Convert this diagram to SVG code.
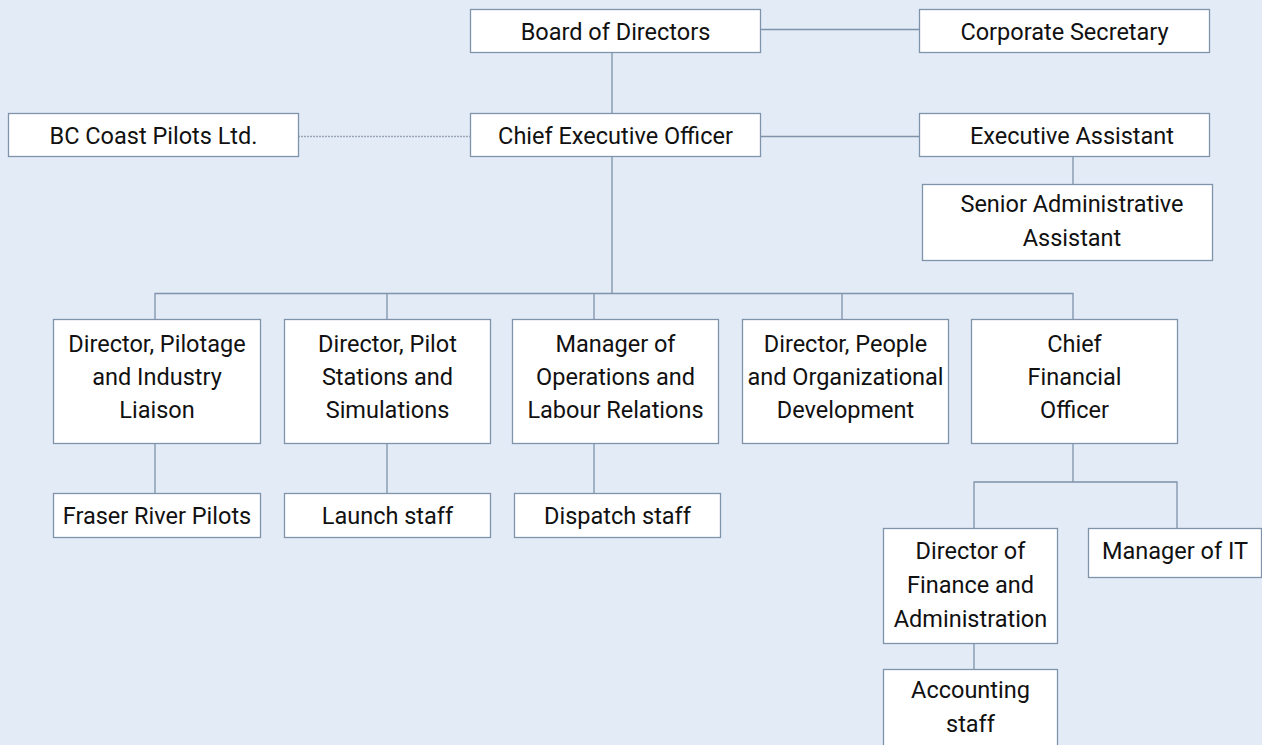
<svg xmlns="http://www.w3.org/2000/svg" width="1262" height="745" viewBox="0 0 1262 745">
<style>
.bx{fill:#ffffff;stroke:#7f93ab;stroke-width:1.3}
.t{font-family:Roboto,"Liberation Sans",sans-serif;font-size:23.5px;fill:#111111;text-anchor:middle}
.ln{fill:none;stroke:#7f93ab;stroke-width:1.3}
.dt{fill:none;stroke:#9aa6b6;stroke-width:1.3;stroke-dasharray:2 1}
</style>
<rect x="0" y="0" width="1262" height="745" fill="#e3ebf7"/>
<g id="connectors">
<path class="ln" d="M760 29.5H919"/>
<path class="ln" d="M612 52V113"/>
<path class="dt" d="M298 136.5H470"/>
<path class="ln" d="M760 136.5H919"/>
<path class="ln" d="M1073 156V184"/>
<path class="ln" d="M612 156V293.5"/>
<path class="ln" d="M155 319V293.5H1073V319"/>
<path class="ln" d="M387 293.5V319"/>
<path class="ln" d="M594 293.5V319"/>
<path class="ln" d="M842 293.5V319"/>
<path class="ln" d="M155 443V493"/>
<path class="ln" d="M387 443V493"/>
<path class="ln" d="M594 443V493"/>
<path class="ln" d="M1073 443V482"/>
<path class="ln" d="M974 528V482H1177V528"/>
<path class="ln" d="M974 643V669"/>
</g>
<g id="board"><rect class="bx" x="470.5" y="9.5" width="290" height="43"/><text class="t" x="615.5" y="39.5">Board of Directors</text></g>
<g id="corpsec"><rect class="bx" x="919.5" y="9.5" width="290" height="43"/><text class="t" x="1064.5" y="39.5">Corporate Secretary</text></g>
<g id="ceo"><rect class="bx" x="470.5" y="113.5" width="290" height="43"/><text class="t" x="615.5" y="143.5">Chief Executive Officer</text></g>
<g id="bccoast"><rect class="bx" x="8.5" y="113.5" width="290" height="43"/><text class="t" x="153.5" y="143.5">BC Coast Pilots Ltd.</text></g>
<g id="execasst"><rect class="bx" x="919.5" y="113.5" width="290" height="43"/><text class="t" x="1072" y="143.5">Executive Assistant</text></g>
<g id="senadmin"><rect class="bx" x="922.5" y="184.5" width="290" height="76"/><text class="t" x="1072" y="212">Senior Administrative</text><text class="t" x="1072" y="246">Assistant</text></g>
<g id="dirpilotage"><rect class="bx" x="53.5" y="319.5" width="207" height="124"/><text class="t" x="157" y="352">Director, Pilotage</text><text class="t" x="157" y="385">and Industry</text><text class="t" x="157" y="418">Liaison</text></g>
<g id="dirstations"><rect class="bx" x="284.5" y="319.5" width="206" height="124"/><text class="t" x="387.5" y="352">Director, Pilot</text><text class="t" x="387.5" y="385">Stations and</text><text class="t" x="387.5" y="418">Simulations</text></g>
<g id="mgrops"><rect class="bx" x="512.5" y="319.5" width="206" height="124"/><text class="t" x="615.5" y="352">Manager of</text><text class="t" x="615.5" y="385">Operations and</text><text class="t" x="615.5" y="418">Labour Relations</text></g>
<g id="dirpeople"><rect class="bx" x="742.5" y="319.5" width="206" height="124"/><text class="t" x="845.5" y="352">Director, People</text><text class="t" x="845.5" y="385">and Organizational</text><text class="t" x="845.5" y="418">Development</text></g>
<g id="cfo"><rect class="bx" x="971.5" y="319.5" width="206" height="124"/><text class="t" x="1074.5" y="352">Chief</text><text class="t" x="1074.5" y="385">Financial</text><text class="t" x="1074.5" y="418">Officer</text></g>
<g id="fraser"><rect class="bx" x="53.5" y="493.5" width="207" height="44"/><text class="t" x="157" y="523.5">Fraser River Pilots</text></g>
<g id="launch"><rect class="bx" x="284.5" y="493.5" width="206" height="44"/><text class="t" x="387.5" y="523.5">Launch staff</text></g>
<g id="dispatch"><rect class="bx" x="514.5" y="493.5" width="206" height="44"/><text class="t" x="617.5" y="523.5">Dispatch staff</text></g>
<g id="dirfinance"><rect class="bx" x="883.5" y="528.5" width="174" height="115"/><text class="t" x="970.5" y="559">Director of</text><text class="t" x="970.5" y="593">Finance and</text><text class="t" x="970.5" y="627">Administration</text></g>
<g id="mgrit"><rect class="bx" x="1088.5" y="528.5" width="173" height="49"/><text class="t" x="1175" y="559">Manager of IT</text></g>
<g id="accounting"><rect class="bx" x="883.5" y="669.5" width="174" height="90"/><text class="t" x="970.5" y="698">Accounting</text><text class="t" x="970.5" y="732">staff</text></g>
</svg>
